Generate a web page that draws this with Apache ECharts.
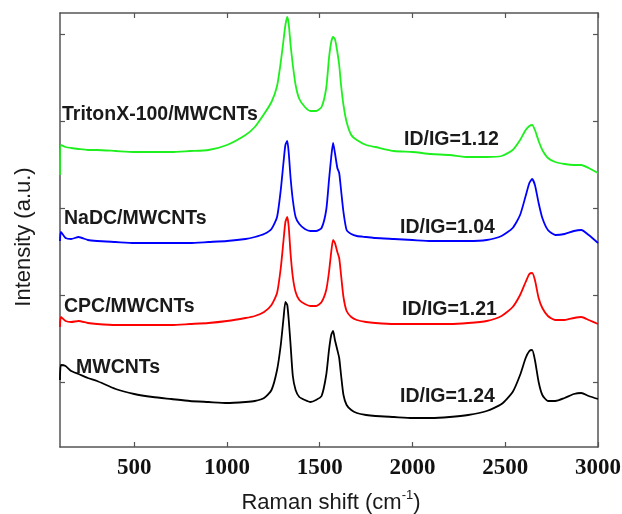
<!DOCTYPE html>
<html>
<head>
<meta charset="utf-8">
<script src="https://cdn.jsdelivr.net/npm/echarts@6/dist/echarts.min.js"></script>
<style>
html,body{margin:0;padding:0;background:#fff;}
#chart{width:622px;height:514px;}
</style>
</head>
<body>
<div id="chart"></div>
<script>
// Raman shift (cm-1)
const shift = [100, 105, 130, 160, 200, 250, 300, 400, 500, 600,
  700, 800, 900, 1000, 1100, 1150, 1200, 1240, 1270, 1290,
  1305, 1315, 1325, 1333, 1343, 1355, 1370, 1390, 1420, 1450,
  1480, 1510, 1535, 1550, 1562, 1572, 1582, 1595, 1605, 1615,
  1628, 1645, 1670, 1700, 1750, 1800, 1900, 2000, 2100, 2200,
  2300, 2400, 2480, 2540, 2580, 2610, 2630, 2645, 2660, 2680,
  2700, 2730, 2770, 2820, 2870, 2910, 2950, 3000];

// Intensities (a.u., vertically offset as in the figure)
const tritonX = [272, 302, 300, 299, 298, 297, 297, 296, 295, 295,
  295, 296, 297, 302, 312, 320, 333, 345, 361, 385,
  407, 422, 430, 423, 402, 382, 362, 348, 340, 336,
  336, 340, 359, 389, 405, 410, 408, 395, 382, 362,
  342, 325, 312, 307, 302, 300, 296, 295, 293, 292,
  290, 290, 291, 297, 307, 317, 321, 322, 317, 306,
  297, 289, 285, 283, 282, 282, 279, 274];

const nadc = [206, 215, 209, 208, 210, 207, 206, 205, 204, 204,
  204, 204, 205, 206, 208, 210, 213, 218, 230, 257,
  285, 302, 306, 294, 269, 247, 230, 223, 218, 216,
  216, 219, 237, 267, 290, 304, 294, 279, 274, 257,
  235, 217, 213, 211, 210, 209, 208, 207, 206, 206,
  206, 207, 211, 219, 232, 251, 264, 268, 262, 244,
  229, 217, 212, 213, 216, 217, 212, 204];

const cpc = [120, 130, 126, 125, 126, 124, 123, 122, 122, 122,
  122, 123, 124, 126, 129, 131, 135, 142, 154, 179,
  207, 225, 230, 220, 193, 170, 155, 147, 143, 141,
  141, 145, 157, 175, 195, 207, 204, 195, 189, 172,
  150, 136, 130, 127, 125, 124, 123, 123, 123, 123,
  124, 126, 131, 140, 152, 165, 173, 174, 167, 149,
  139, 131, 127, 127, 129, 130, 127, 123];

const mwcnts = [67, 82, 81, 76, 73, 69, 66, 58, 53, 50,
  48, 46, 45, 44, 45, 46, 49, 57, 77, 102,
  129, 145, 142, 127, 102, 71, 57, 50, 47, 45,
  47, 51, 72, 97, 112, 116, 107, 97, 89, 72,
  52, 42, 37, 34, 32, 31, 30, 29, 29, 30,
  32, 36, 43, 55, 72, 89, 96, 97, 87, 65,
  52, 46, 46, 49, 53, 54, 51, 48];

const xTicks = [500, 1000, 1500, 2000, 2500, 3000];
const yTicks = [65, 152, 239, 326, 413];

const seriesNames = ['TritonX-100/MWCNTs', 'NaDC/MWCNTs', 'CPC/MWCNTs', 'MWCNTs'];
const ratioLabels = ['ID/IG=1.12', 'ID/IG=1.04', 'ID/IG=1.21', 'ID/IG=1.24'];

function pairs(ys) { return shift.map((x, i) => [x, ys[i]]); }

const axisCol = '#555';
const chart = echarts.init(document.getElementById('chart'), null, {renderer: 'canvas'});

const baseX = {
  type: 'value', min: 100, max: 3000,
  axisLine: {show: true, onZero: false, lineStyle: {color: axisCol, width: 1.5}},
  axisTick: {show: true, inside: true, length: 5, customValues: xTicks, lineStyle: {color: axisCol, width: 1.2}},
  splitLine: {show: false}
};
const baseY = {
  type: 'value', min: 0, max: 434,
  axisLine: {show: true, onZero: false, lineStyle: {color: axisCol, width: 1.5}},
  axisTick: {show: true, inside: true, length: 5, customValues: yTicks, lineStyle: {color: axisCol, width: 1.2}},
  axisLabel: {show: false},
  splitLine: {show: false}
};

const labelStyle = {fontFamily: 'Liberation Sans', fontWeight: 'bold', fontSize: 19.5, fill: '#1a1a1a'};
function txt(text, left, cy) {
  return {type: 'text', x: left, y: cy, style: Object.assign({text: text, align: 'left', verticalAlign: 'middle'}, labelStyle)};
}

const colors = ['#1ef01e', '#0000ff', '#ff0000', '#000000'];
const datasets = [tritonX, nadc, cpc, mwcnts];

chart.setOption({
  animation: false,
  backgroundColor: '#fff',
  grid: {left: 60, right: 24, top: 13, bottom: 67, containLabel: false, outerBoundsMode: 'none'},
  xAxis: [
    Object.assign({}, baseX, {position: 'bottom',
      axisLabel: {show: true, customValues: xTicks, margin: 10, formatter: v => String(v),
        fontFamily: 'Liberation Serif', fontWeight: 'bold', fontSize: 23, color: '#111'}}),
    Object.assign({}, baseX, {position: 'top', axisLabel: {show: false}})
  ],
  yAxis: [
    Object.assign({}, baseY, {position: 'left'}),
    Object.assign({}, baseY, {position: 'right'})
  ],
  series: datasets.map((d, i) => ({
    name: seriesNames[i], type: 'line', data: pairs(d), showSymbol: false,
    smooth: 0.2, xAxisIndex: 0, yAxisIndex: 0,
    lineStyle: {color: colors[i], width: 1.8}, itemStyle: {color: colors[i]}
  })),
  graphic: [
    txt(seriesNames[0], 62, 115),
    txt(ratioLabels[0], 404, 140),
    txt(seriesNames[1], 64, 219),
    txt(ratioLabels[1], 400, 228),
    txt(seriesNames[2], 64, 307),
    txt(ratioLabels[2], 402, 310),
    txt(seriesNames[3], 76, 368),
    txt(ratioLabels[3], 400, 397),
    {type: 'text', x: 24, y: 237, rotation: Math.PI / 2,
      style: {text: 'Intensity (a.u.)', align: 'center', verticalAlign: 'middle', fontFamily: 'Liberation Sans', fontSize: 22, fill: '#1a1a1a'}},
    {type: 'text', x: 331, y: 501,
      style: {text: '{a|Raman shift (cm}{s|-1}{a|)}', align: 'center', verticalAlign: 'middle',
        rich: {
          a: {fontFamily: 'Liberation Sans', fontSize: 22, fill: '#1a1a1a', lineHeight: 25, verticalAlign: 'bottom'},
          s: {fontFamily: 'Liberation Sans', fontSize: 13, fill: '#1a1a1a', lineHeight: 25, verticalAlign: 'top', padding: [0, 0, 10, 0]}
        }}}
  ]
});
</script>
</body>
</html>
